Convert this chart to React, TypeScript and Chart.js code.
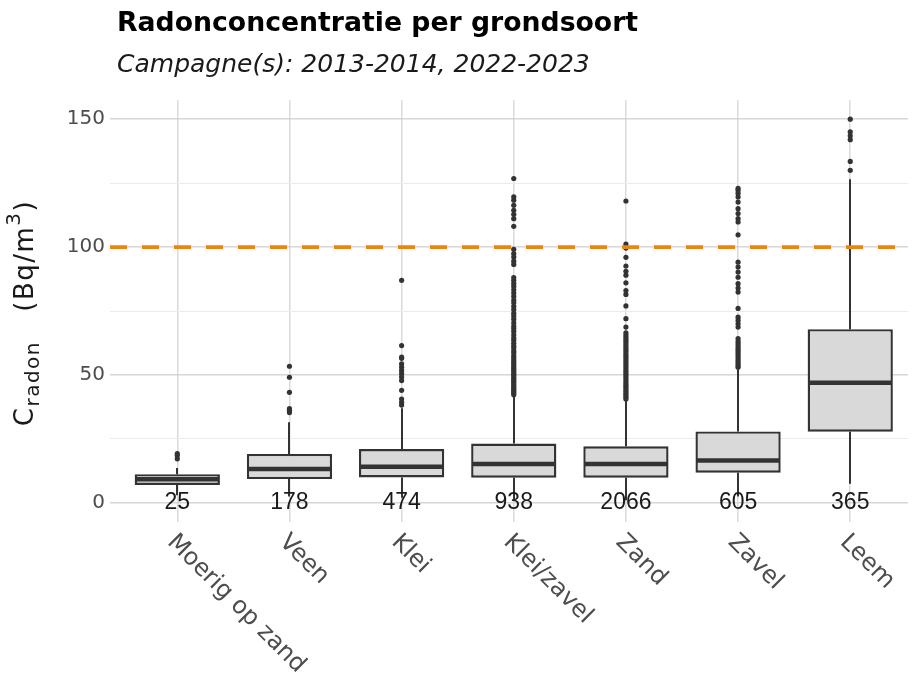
import React, { useEffect, useRef } from 'react';
import { Chart, registerables } from 'chart.js';

Chart.register(...registerables);

const TITLE = 'Radonconcentratie per grondsoort';
const SUBTITLE = 'Campagne(s): 2013-2014, 2022-2023';

const CATEGORIES = ['Moerig op zand', 'Veen', 'Klei', 'Klei/zavel', 'Zand', 'Zavel', 'Leem'];
const COUNTS = [25, 178, 474, 938, 2066, 605, 365];
const Q1 = [7, 9.3, 9.9, 9.8, 9.8, 11.8, 27.8];
const MEDIAN = [9.2, 13.2, 14.1, 15.2, 15.2, 16.5, 46.9];
const Q3 = [11.2, 19.1, 21, 23.2, 22.1, 27.9, 67.9];
const WHISKER_LOW = [3, 2.5, 2, 1.5, 1, 2.5, 7.5];
const WHISKER_HIGH = [13.6, 31.5, 37, 41.8, 40, 52.2, 126.5];

const OUTLIERS_MOERIG = [17.2, 18.5, 19.2];
const OUTLIERS_VEEN = [35.3, 36.2, 36.8, 43.2, 49.1, 53.4];
const OUTLIERS_KLEI = [38.2, 39.3, 40.6, 44, 47.8, 49.2, 50.5, 51.7, 53, 54.3, 56.5, 57, 61.5, 87];
const OUTLIERS_KLEIZAVEL = [42.3, 42.9, 43.5, 44.1, 44.8, 45.4, 46.1, 46.9, 47.5, 48.2, 48.8, 49.6, 50.3, 51, 51.8, 52.6, 53.3, 54.1, 55, 55.8, 56.7, 57.5, 58.6, 59.4, 60.5, 61.3, 62.4, 63.6, 64.5, 65.7, 67, 68.2, 69.1, 70.4, 71.8, 73, 74.1, 75.5, 76.8, 78.2, 79.3, 80.7, 82, 83.3, 84.6, 85.8, 87, 88.1, 93.2, 94.5, 96.1, 97.4, 99.1, 108.1, 111.1, 112.8, 114.4, 116.3, 118.3, 119.6, 126.8];
const OUTLIERS_ZAND = [40.6, 41.3, 42.1, 42.8, 43.6, 44.3, 45.2, 46, 46.8, 47.6, 48.5, 49.3, 50.1, 51, 51.8, 52.7, 53.5, 54.3, 55.2, 56, 56.9, 57.7, 58.6, 59.5, 60.3, 61.2, 62.1, 63, 63.8, 64.7, 65.6, 66.5, 68.7, 72, 77, 81.5, 83, 86, 89, 90.5, 92.6, 96, 99.6, 101.2, 118];
const OUTLIERS_ZAVEL = [53, 53.7, 54.5, 55.4, 56.2, 57.1, 57.9, 58.7, 59.6, 60.4, 61.3, 62.2, 63.1, 64.2, 68.7, 70, 71.3, 72.6, 76, 82.4, 84, 85.7, 88.2, 90.2, 92.2, 94.1, 104.8, 109.8, 111.1, 113.1, 115, 117.6, 119.6, 121, 122.2, 123];
const OUTLIERS_LEEM = [130, 133.5, 142, 143.5, 145, 150];
const OUTLIERS = [OUTLIERS_MOERIG, OUTLIERS_VEEN, OUTLIERS_KLEI, OUTLIERS_KLEIZAVEL, OUTLIERS_ZAND, OUTLIERS_ZAVEL, OUTLIERS_LEEM];

const THRESHOLD = 100;
const Y_TICKS = [0, 25, 50, 75, 100, 125, 150];
const Y_LABELLED = [0, 50, 100, 150];
const Y_MIN = -7.5;
const Y_MAX = 157.5;
const X_MIN = 0.4;
const X_MAX = 7.515;

const DARK = '#333333';
const FONT = '"DejaVu Sans", Verdana, sans-serif';

const extrasPlugin = {
  id: 'boxExtras',
  beforeDatasetsDraw(chart: any) {
    const { ctx, scales } = chart;
    const x = scales.x, y = scales.y;
    ctx.save();
    ctx.strokeStyle = DARK;
    ctx.lineWidth = 2;
    CATEGORIES.forEach((_, i) => {
      const px = Math.round(x.getPixelForValue(i + 1));
      ctx.beginPath();
      ctx.moveTo(px, y.getPixelForValue(Q3[i]));
      ctx.lineTo(px, y.getPixelForValue(WHISKER_HIGH[i]));
      ctx.moveTo(px, y.getPixelForValue(Q1[i]));
      ctx.lineTo(px, y.getPixelForValue(WHISKER_LOW[i]));
      ctx.stroke();
    });
    ctx.restore();
  },
  afterDatasetsDraw(chart: any) {
    const { ctx, scales } = chart;
    const x = scales.x, y = scales.y;
    const meta = chart.getDatasetMeta(0);
    ctx.save();
    ctx.strokeStyle = DARK;
    ctx.lineWidth = 4.5;
    CATEGORIES.forEach((_, i) => {
      const bar = meta.data[i];
      const half = bar.width / 2;
      const px = x.getPixelForValue(i + 1);
      const py = y.getPixelForValue(MEDIAN[i]);
      ctx.beginPath();
      ctx.moveTo(px - half + 1, py);
      ctx.lineTo(px + half - 1, py);
      ctx.stroke();
    });
    // counts
    ctx.fillStyle = '#1a1a1a';
    ctx.font = '23px "Liberation Sans", Arial, sans-serif';
    ctx.textAlign = 'center';
    ctx.textBaseline = 'alphabetic';
    CATEGORIES.forEach((_, i) => {
      ctx.fillText(String(COUNTS[i]), x.getPixelForValue(i + 1), y.getPixelForValue(0) + 6);
    });
    ctx.restore();
  },
  afterDraw(chart: any) {
    const { ctx, scales, chartArea } = chart;
    const x = scales.x;
    ctx.save();
    // title
    ctx.fillStyle = '#000000';
    ctx.textAlign = 'left';
    ctx.textBaseline = 'alphabetic';
    ctx.font = `bold 26.7px ${FONT}`;
    ctx.fillText(TITLE, 117, 31);
    ctx.fillStyle = '#1a1a1a';
    ctx.font = `italic 25px ${FONT}`;
    ctx.fillText(SUBTITLE, 117, 72);

    // x labels rotated (top-left anchored at the tick)
    ctx.fillStyle = '#4d4d4d';
    ctx.font = `24px ${FONT}`;
    ctx.textBaseline = 'top';
    CATEGORIES.forEach((c, i) => {
      const px = x.getPixelForValue(i + 1) + 2;
      const py = chartArea.bottom + 8;
      ctx.save();
      ctx.translate(px, py);
      ctx.rotate(Math.PI / 4);
      ctx.fillText(c, 0, 0);
      ctx.restore();
    });

    // y title: C_radon (Bq/m^3), drawn glyph by glyph with a little tracking
    ctx.save();
    ctx.translate(33, (chartArea.top + chartArea.bottom) / 2 + 2);
    ctx.rotate(-Math.PI / 2);
    ctx.fillStyle = '#1a1a1a';
    ctx.textBaseline = 'alphabetic';
    const big = `26px ${FONT}`;
    const small = `20px ${FONT}`;
    const track = 1.5;
    const parts: [string, string, number][] = [
      ['C', big, 0],
      ['radon', small, 6],
      ['   (Bq/m', big, 0],
      ['3', small, -13],
      [')', big, 0],
    ];
    let total = 0;
    parts.forEach(([t, f]) => {
      ctx.font = f;
      for (const ch of t) total += ctx.measureText(ch).width + track;
    });
    let cx = -total / 2;
    parts.forEach(([t, f, dy]) => {
      ctx.font = f;
      for (const ch of t) {
        ctx.fillText(ch, cx, dy);
        cx += ctx.measureText(ch).width + track;
      }
    });
    ctx.restore();
    ctx.restore();
  },
};

export default function App() {
  const ref = useRef<HTMLCanvasElement | null>(null);
  useEffect(() => {
    if (!ref.current) return;
    const boxData = CATEGORIES.map((_, i) => ({ x: i + 1, y: [Q1[i], Q3[i]] }));
    const outlierData: { x: number; y: number }[] = [];
    OUTLIERS.forEach((arr, i) => arr.forEach((v) => outlierData.push({ x: i + 1, y: v })));
    const chart = new Chart(ref.current, {
      type: 'bar',
      data: {
        datasets: [
          {
            type: 'bar',
            data: boxData as any,
            backgroundColor: '#d9d9d9',
            borderColor: DARK,
            borderWidth: 2.4,
            borderSkipped: false,
            categoryPercentage: 1,
            barPercentage: 0.76,
            order: 3,
          } as any,
          {
            type: 'scatter',
            data: outlierData,
            backgroundColor: DARK,
            borderColor: DARK,
            pointRadius: 2.6,
            borderWidth: 0,
            order: 2,
          } as any,
          {
            type: 'line',
            data: [{ x: X_MIN, y: THRESHOLD }, { x: X_MAX, y: THRESHOLD }],
            borderColor: '#e8870e',
            borderWidth: 3.8,
            borderDash: [17, 15],
            pointRadius: 0,
            order: 1,
          } as any,
        ],
      },
      options: {
        responsive: false,
        animation: false,
        events: [],
        layout: { padding: { top: 100, left: 0, right: 0, bottom: 157 } },
        plugins: { legend: { display: false }, tooltip: { enabled: false }, title: { display: false } },
        scales: {
          x: {
            type: 'linear',
            min: X_MIN,
            max: X_MAX,
            offset: false,
            border: { display: false },
            grid: { color: '#dadada', lineWidth: 1.5, drawTicks: false, offset: false },
            ticks: { display: false },
            afterBuildTicks: (s: any) => { s.ticks = CATEGORIES.map((_, i) => ({ value: i + 1 })); },
            afterFit: (s: any) => { s.height = 0; },
          },
          y: {
            type: 'linear',
            min: Y_MIN,
            max: Y_MAX,
            border: { display: false },
            grid: {
              drawTicks: false,
              color: (c: any) => (Y_LABELLED.includes(c.tick?.value) ? '#d6d6d6' : '#ebebeb'),
              lineWidth: (c: any) => (Y_LABELLED.includes(c.tick?.value) ? 1.5 : 1),
            },
            ticks: {
              padding: 5,
              color: '#4d4d4d',
              font: { family: FONT, size: 20 },
              callback: (v: any) => (Y_LABELLED.includes(v) ? String(v) : ''),
            },
            afterBuildTicks: (s: any) => { s.ticks = Y_TICKS.map((v) => ({ value: v })); },
            afterFit: (s: any) => { s.width = 110; },
          },
        },
      },
      plugins: [extrasPlugin],
    });
    return () => chart.destroy();
  }, []);
  return (
    <div style={{ position: 'absolute', left: 0, top: 0, width: 912, height: 679, background: '#ffffff' }}>
      <canvas ref={ref} width={912} height={679} style={{ display: 'block' }} />
    </div>
  );
}
